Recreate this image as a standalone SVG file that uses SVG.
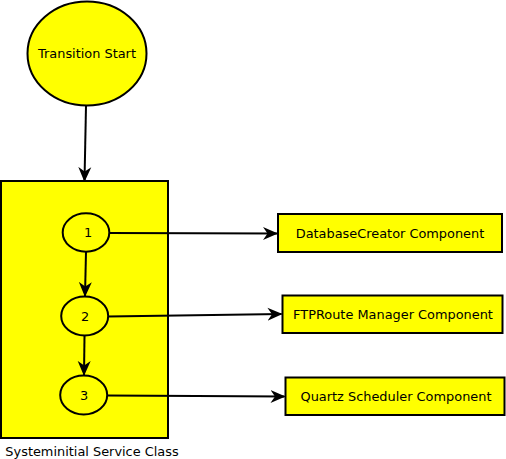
<svg xmlns="http://www.w3.org/2000/svg" width="506" height="459" viewBox="0 0 506 459">
<style>
.shape{fill:#ffff00;stroke:#000;stroke-width:2}
.lbl{font-family:"DejaVu Sans",sans-serif;font-size:12.9px;fill:#000;text-anchor:middle}
.edge{fill:none;stroke:#000;stroke-width:2;marker-end:url(#ah)}
</style>
<defs>
<marker id="ah" markerWidth="15" markerHeight="14" viewBox="0 0 15 14" refX="14" refY="7" orient="auto" markerUnits="userSpaceOnUse">
<path d="M0,0.5 L15,7 L0,13.5 L4.5,7 Z" fill="#000"/>
</marker>
</defs>
<g id="transition-start">
<ellipse class="shape" cx="87" cy="53.5" rx="59.5" ry="52"/>
<text class="lbl" x="87" y="57.5">Transition Start</text>
</g>
<g id="service-class">
<rect class="shape" x="1" y="181" width="167" height="257"/>
<text class="lbl" x="92" y="456">Systeminitial Service Class</text>
</g>
<g id="step1">
<ellipse class="shape" cx="86" cy="232.5" rx="23.3" ry="19.2"/>
<text class="lbl" x="88" y="237">1</text>
</g>
<g id="step2">
<ellipse class="shape" cx="84.7" cy="316" rx="23.5" ry="19.5"/>
<text class="lbl" x="85" y="321">2</text>
</g>
<g id="step3">
<ellipse class="shape" cx="83.7" cy="395" rx="23.5" ry="19.5"/>
<text class="lbl" x="84" y="399.5">3</text>
</g>
<g id="db">
<rect class="shape" x="278" y="214" width="224" height="38"/>
<text class="lbl" x="390" y="237.5">DatabaseCreator Component</text>
</g>
<g id="ftp">
<rect class="shape" x="282.5" y="295.5" width="220" height="37.5"/>
<text class="lbl" x="393" y="318.5">FTPRoute Manager Component</text>
</g>
<g id="quartz">
<rect class="shape" x="285.5" y="377.5" width="219" height="37.5"/>
<text class="lbl" x="396" y="400.5">Quartz Scheduler Component</text>
</g>
<g id="connectors">
<line class="edge" x1="86" y1="106" x2="84.5" y2="181"/>
<line class="edge" x1="86" y1="252" x2="85" y2="296"/>
<line class="edge" x1="84.5" y1="336" x2="84" y2="375"/>
<line class="edge" x1="109.5" y1="233" x2="277" y2="233.5"/>
<line class="edge" x1="108" y1="316.5" x2="281.5" y2="314"/>
<line class="edge" x1="107" y1="395.5" x2="284.5" y2="396.5"/>
</g>
</svg>
